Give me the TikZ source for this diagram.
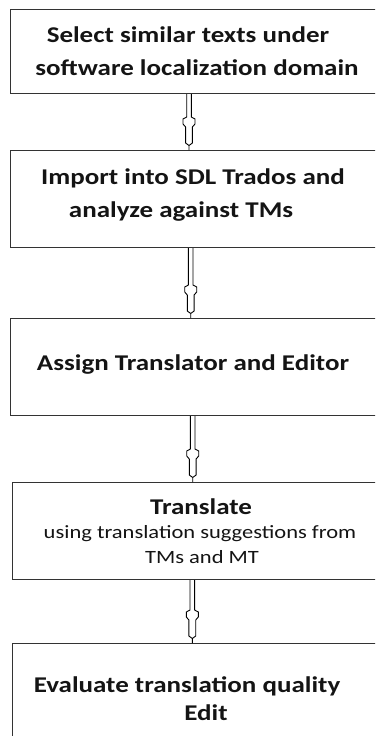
\documentclass[tikz,border=0pt]{standalone}
\usepackage{fontspec}
\setmainfont{Carlito}
\newfontfamily\stretchfont{Carlito}[FakeStretch=1.2]
\usetikzlibrary{calc}
\tikzset{
  box/.style={draw=black!80, line width=1.2pt, rectangle, inner sep=0pt, anchor=north west, minimum width=400pt},
  btext/.style={anchor=base, inner sep=0pt, font=\stretchfont\bfseries\fontsize{22.5pt}{27pt}\selectfont, text=black!92},
  stext/.style={anchor=base, inner sep=0pt, font=\stretchfont\fontsize{18.75pt}{23pt}\selectfont, text=black!92},
  hollowarrow/.style={line width=0.9pt, draw=black, line join=miter,
    to path={
      ($(\tikztostart)+(-2.3,0)$) -- ($(\tikztostart |- \tikztotarget)+(-2.3,-33)$)
      -- ($(\tikztostart |- \tikztotarget)+(-6,-31)$) -- ($(\tikztostart |- \tikztotarget)+(-6,-26)$)
      -- ($(\tikztostart |- \tikztotarget)+(-3.4,-23)$) -- ($(\tikztostart |- \tikztotarget)+(-3.4,-7)$)
      -- ($(\tikztostart |- \tikztotarget)+(0,-4.5)$)
      -- ($(\tikztostart |- \tikztotarget)+(3.4,-7)$) -- ($(\tikztostart |- \tikztotarget)+(3.4,-23)$)
      -- ($(\tikztostart |- \tikztotarget)+(6,-26)$) -- ($(\tikztostart |- \tikztotarget)+(6,-31)$)
      -- ($(\tikztostart |- \tikztotarget)+(2.3,-33)$) -- ($(\tikztostart)+(2.3,0)$)
      ($(\tikztostart |- \tikztotarget)+(0,-4.5)$) -- (\tikztostart |- \tikztotarget)
      \tikztonodes}}
}
\begin{document}
\begin{tikzpicture}[x=1pt,y=-1pt]
\useasboundingbox (0,0) rectangle (375,736);
\fill[white] (0,0) rectangle (375,736);
\clip (0,0) rectangle (375,736);
% boxes
\node[box, minimum height=84pt] (b1) at (10,9) {};
\node[box, minimum height=97pt] (b2) at (10,150) {};
\node[box, minimum height=97pt] (b3) at (10,318) {};
\node[box, minimum height=97pt] (b4) at (12,482) {};
\node[box, minimum height=120pt] (b5) at (12,643) {};
% texts
\node[btext] (t1a) at (188,42) {Select similar texts under};
\node[btext] (t1b) at (197,75) {software localization domain};
\node[btext] (t2a) at (193,184) {Import into SDL Trados and};
\node[btext] (t2b) at (181,217) {analyze against TMs};
\node[btext] (t3) at (193,370) {Assign Translator and Editor};
\node[btext] (t4a) at (201,514) {Translate};
\node[stext] (t4b) at (200,538) {using translation suggestions from};
\node[stext] (t4c) at (202,563) {TMs and MT};
\node[btext] (t5a) at (187,692) {Evaluate translation quality};
\node[btext] (t5b) at (206,720) {Edit};
% arrows
\draw[hollowarrow] ($(b1.south west)+(179,0)$) to (b2.north);
\draw[hollowarrow] ($(b2.south west)+(180.7,0)$) to (b3.north);
\draw[hollowarrow] ($(b3.south west)+(182.7,0)$) to (b4.north);
\draw[hollowarrow] ($(b4.south west)+(180.3,0)$) to (b5.north);
\end{tikzpicture}
\end{document}
